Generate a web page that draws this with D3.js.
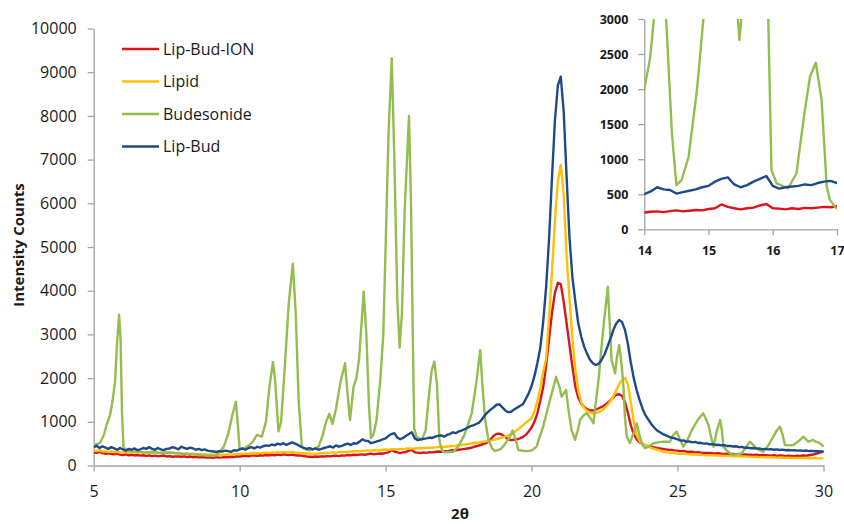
<!DOCTYPE html>
<html>
<head>
<meta charset="utf-8">
<script src="https://cdn.jsdelivr.net/npm/d3@7"></script>
<style>
  html, body { margin: 0; padding: 0; background: #fff; }
  svg { display: block; font-family: "Open Sans", "DejaVu Sans", sans-serif; }
</style>
</head>
<body>
<svg id="chart" width="844" height="524"></svg>
<script>
// Diffractometer scan: first angle and step (degrees 2θ) of the lipid-based samples
const scanStart = 5;
const scanStep = 0.1;

// Lip-Bud-ION intensity counts, 5°–30° every 0.1°
const lipBudIon = [
  300, 290, 310, 285, 270, 280, 265, 255, 270, 250,
  240, 255, 235, 245, 230, 240, 225, 235, 220, 230,
  215, 225, 210, 220, 230, 205, 215, 200, 210, 205,
  200, 210, 195, 205, 190, 200, 185, 195, 190, 180,
  185, 175, 190, 180, 185, 195, 190, 200, 195, 210,
  205, 215, 220, 210, 225, 230, 220, 235, 225, 240,
  230, 245, 235, 250, 240, 255, 245, 240, 250, 235,
  230, 225, 215, 205, 200, 195, 205, 200, 210, 205,
  215, 210, 220, 225, 215, 230, 225, 240, 235, 245,
  240, 250, 255, 245, 260, 270, 255, 265, 275, 270,
  290, 300, 355, 320, 300, 285, 300, 310, 340, 360,
  300, 295, 285, 300, 290, 305, 300, 310, 320, 315,
  330, 325, 340, 350, 345, 360, 370, 380, 390, 400,
  420, 440, 460, 480, 500, 540, 600, 680, 720, 730,
  700, 650, 600, 580, 590, 600, 620, 650, 700, 780,
  870, 1000, 1200, 1480, 1800, 2300, 2900, 3500, 3950, 4180,
  4150, 3750, 3250, 2750, 2250, 1800, 1550, 1420, 1340, 1290,
  1260, 1260, 1280, 1310, 1340, 1380, 1430, 1490, 1560, 1620,
  1630, 1590, 1450, 1200, 920, 720, 600, 530, 490, 460,
  440, 430, 415, 400, 390, 380, 370, 360, 355, 345,
  340, 330, 335, 320, 310, 315, 300, 305, 295, 290,
  285, 290, 280, 275, 280, 270, 265, 270, 260, 265,
  255, 260, 250, 255, 245, 250, 240, 245, 235, 240,
  235, 230, 225, 235, 220, 230, 225, 215, 225, 220,
  215, 225, 220, 230, 225, 235, 245, 260, 280, 300,
  320
];

// Lipid intensity counts, 5°–30° every 0.1°
const lipid = [
  340, 330, 345, 320, 330, 310, 320, 305, 315, 300,
  300, 310, 295, 305, 300, 290, 305, 295, 300, 290,
  295, 300, 285, 295, 290, 300, 285, 290, 280, 285,
  280, 270, 275, 265, 270, 260, 265, 255, 260, 250,
  255, 245, 250, 240, 250, 245, 255, 250, 260, 265,
  260, 270, 275, 270, 280, 285, 280, 290, 285, 295,
  290, 300, 295, 305, 300, 310, 305, 300, 310, 300,
  295, 285, 280, 275, 270, 265, 270, 275, 280, 285,
  290, 295, 300, 295, 305, 310, 305, 315, 320, 325,
  330, 325, 335, 340, 345, 340, 350, 355, 350, 360,
  365, 360, 370, 375, 370, 380, 375, 385, 390, 385,
  390, 395, 400, 395, 405, 410, 405, 415, 420, 425,
  430, 435, 440, 450, 455, 465, 470, 480, 490, 500,
  510, 520, 530, 540, 550, 560, 570, 585, 600, 620,
  640, 665, 690, 720, 760, 810, 860, 920, 980, 1030,
  1080, 1250, 1480, 1780, 2150, 2450, 3400, 4450, 5600, 6500,
  6880, 6200, 4800, 3800, 2900, 2200, 1700, 1450, 1320, 1250,
  1210, 1190, 1200, 1220, 1260, 1310, 1380, 1470, 1580, 1720,
  1860, 1960, 2000, 1850, 1450, 1000, 700, 560, 500, 460,
  430, 400, 380, 360, 340, 320, 305, 295, 290, 280,
  275, 270, 268, 260, 258, 250, 248, 245, 242, 238,
  235, 232, 232, 226, 225, 222, 220, 220, 214, 212,
  210, 210, 205, 204, 203, 198, 198, 196, 192, 192,
  190, 188, 186, 185, 180, 180, 178, 176, 176, 172,
  172, 170, 170, 168, 168, 166, 166, 165, 164, 163,
  162
];

// Lip-Bud intensity counts, 5°–30° every 0.1°
const lipBud = [
  420, 450, 400, 440, 410, 380, 420, 390, 360, 400,
  370, 340, 380, 360, 390, 350, 370, 400, 380, 420,
  380, 360, 400, 370, 350, 380, 390, 420, 400, 370,
  430, 400, 380, 410, 390, 360, 380, 350, 370, 340,
  330, 320, 310, 330, 320, 340, 330, 310, 350, 340,
  370, 390, 360, 400, 420, 390, 430, 410, 440, 460,
  450, 480, 460, 500, 480, 510, 470, 500, 530, 500,
  470, 430, 400, 380, 400, 370, 390, 360, 380, 400,
  420, 440, 410, 460, 430, 450, 480, 500, 470, 510,
  500, 540, 600, 570, 560, 510, 530, 550, 570, 600,
  620, 680, 720, 740, 640, 600, 630, 680, 720, 760,
  620, 580, 600, 610, 620, 640, 630, 660, 680, 690,
  660, 700, 720, 760, 740, 780, 800, 830, 860, 900,
  920, 950, 980, 1060, 1150, 1220, 1280, 1330, 1390, 1400,
  1330, 1260, 1220, 1230, 1280, 1320, 1360, 1400, 1520, 1650,
  1820, 2050, 2350, 2700, 3300, 4100, 5200, 6600, 7900, 8700,
  8900, 8100, 6600, 5200, 4300, 3750, 3250, 2950, 2720, 2560,
  2420, 2340, 2300, 2330, 2420, 2540, 2720, 2900, 3100, 3250,
  3330, 3280, 3100, 2780, 2350, 2000, 1720, 1500, 1300, 1150,
  1050, 950, 870, 800, 760, 720, 690, 660, 640, 620,
  600, 570, 575, 545, 550, 530, 540, 515, 520, 500,
  505, 485, 490, 470, 475, 460, 465, 445, 450, 435,
  440, 420, 425, 405, 410, 395, 400, 385, 390, 375,
  380, 370, 375, 360, 368, 355, 362, 350, 356, 345,
  350, 340, 346, 335, 342, 330, 336, 325, 330, 320,
  320
];

// Budesonide (crystalline drug): [2θ, intensity counts]
const budesonide = [
  [5.0, 460], [5.1, 490], [5.22, 520], [5.35, 700], [5.45, 950], [5.56, 1150],
  [5.65, 1500], [5.73, 1900], [5.8, 2800], [5.87, 3450], [5.92, 2900], [5.97, 1200],
  [6.02, 430], [6.1, 350], [6.3, 330], [6.5, 320], [6.7, 300], [7.0, 310],
  [7.3, 290], [7.6, 300], [8.0, 270], [8.3, 260], [8.6, 240], [8.9, 225],
  [9.2, 230], [9.45, 420], [9.6, 700], [9.75, 1150], [9.87, 1460], [9.93, 1000],
  [10.0, 380], [10.15, 390], [10.3, 450], [10.47, 560], [10.59, 700], [10.68, 680],
  [10.76, 660], [10.9, 1000], [11.02, 1800], [11.14, 2370], [11.22, 1900], [11.33, 780],
  [11.42, 1000], [11.55, 2300], [11.68, 3700], [11.82, 4620], [11.92, 3500], [12.02, 1500],
  [12.13, 430], [12.3, 360], [12.41, 350], [12.55, 380], [12.7, 430], [12.85, 700],
  [12.96, 1000], [13.07, 1180], [13.18, 950], [13.3, 1300], [13.45, 1900], [13.61, 2340],
  [13.7, 1600], [13.78, 1040], [13.9, 1800], [14.0, 2000], [14.09, 2440], [14.16, 3100],
  [14.25, 3980], [14.34, 3000], [14.43, 1370], [14.5, 630], [14.58, 700], [14.69, 1035],
  [14.82, 1990], [14.92, 3000], [15.0, 5000], [15.1, 7600], [15.21, 9320], [15.3, 7000],
  [15.4, 3800], [15.48, 2700], [15.56, 3500], [15.65, 5800], [15.8, 8000], [15.87, 6000],
  [15.93, 3000], [15.98, 845], [16.06, 655], [16.24, 585], [16.37, 800], [16.43, 1225],
  [16.5, 1700], [16.58, 2180], [16.67, 2376], [16.76, 1845], [16.84, 610], [16.89, 420],
  [16.99, 300], [17.15, 310], [17.32, 315], [17.5, 450], [17.7, 700], [17.95, 1195],
  [18.12, 1960], [18.24, 2640], [18.32, 1800], [18.41, 1040], [18.52, 600], [18.64, 400],
  [18.75, 330], [18.95, 380], [19.1, 500], [19.26, 660], [19.35, 800], [19.45, 600],
  [19.55, 355], [19.8, 330], [20.0, 340], [20.17, 430], [20.4, 900], [20.63, 1500],
  [20.75, 1800], [20.84, 2030], [20.95, 1800], [21.03, 1575], [21.18, 1730], [21.28, 1200],
  [21.37, 810], [21.49, 585], [21.58, 800], [21.66, 1040], [21.78, 1150], [21.89, 1195],
  [22.0, 1100], [22.12, 965], [22.17, 1270], [22.3, 2000], [22.45, 3100], [22.61, 4090],
  [22.68, 3200], [22.74, 2415], [22.86, 2110], [22.93, 2500], [23.0, 2760], [23.07, 2400],
  [23.14, 1880], [23.2, 1100], [23.26, 660], [23.37, 510], [23.5, 750], [23.6, 965],
  [23.71, 660], [23.8, 470], [23.89, 395], [24.0, 430], [24.17, 510], [24.35, 530],
  [24.51, 545], [24.74, 545], [24.85, 700], [24.97, 775], [25.08, 600], [25.2, 430],
  [25.35, 600], [25.49, 810], [25.7, 1050], [25.88, 1195], [25.95, 1100], [26.06, 925],
  [26.15, 650], [26.23, 430], [26.35, 800], [26.46, 1040], [26.52, 800], [26.57, 430],
  [26.75, 300], [26.91, 240], [27.05, 260], [27.2, 280], [27.35, 420], [27.48, 545],
  [27.65, 430], [27.8, 350], [27.94, 315], [28.1, 450], [28.28, 660], [28.4, 800],
  [28.51, 890], [28.6, 700], [28.68, 470], [28.8, 460], [28.97, 470], [29.15, 560],
  [29.31, 660], [29.4, 600], [29.48, 545], [29.65, 585], [29.75, 540], [29.88, 510],
  [30.0, 430]
];

// Axis ticks
const mainXTicks = [5, 10, 15, 20, 25, 30];
const mainYTicks = [0, 1000, 2000, 3000, 4000, 5000, 6000, 7000, 8000, 9000, 10000];
const insetXTicks = [14, 15, 16, 17];
const insetYTicks = [0, 500, 1000, 1500, 2000, 2500, 3000];

// Series names (legend order) and colours
const seriesNames = ["Lip-Bud-ION", "Lipid", "Budesonide", "Lip-Bud"];
const seriesColors = ["#d9141b", "#ffc000", "#93bd4f", "#1e4a8c"];

const scanPoints = vals => vals.map((v, i) => [+(scanStart + i * scanStep).toFixed(2), v]);
const series = [
  { name: seriesNames[0], color: seriesColors[0], pts: scanPoints(lipBudIon), inset: true },
  { name: seriesNames[1], color: seriesColors[1], pts: scanPoints(lipid), inset: false },
  { name: seriesNames[2], color: seriesColors[2], pts: budesonide, inset: true },
  { name: seriesNames[3], color: seriesColors[3], pts: scanPoints(lipBud), inset: true }
];

const svg = d3.select("#chart");
const axisColor = "#a3a3a3";
const textColor = "#1a1a1a";

function styleAxis(g, fontSize, weight) {
  g.select(".domain").attr("stroke", axisColor).attr("stroke-width", 1.3);
  g.selectAll(".tick line").attr("stroke", axisColor).attr("stroke-width", 1.3);
  g.selectAll(".tick text")
    .attr("fill", textColor)
    .style("font-family", '"Open Sans", sans-serif')
    .style("font-size", fontSize + "px")
    .style("font-weight", weight);
}

// ---------- main panel ----------
const x = d3.scaleLinear().domain([5, 30]).range([93.7, 823.5]);
const y = d3.scaleLinear().domain([0, 10000]).range([465.5, 28.5]);

svg.append("g")
  .attr("transform", `translate(0,${y(0)})`)
  .call(d3.axisBottom(x).tickValues(mainXTicks).tickSize(6).tickSizeOuter(0).tickPadding(14).tickFormat(d3.format("d")))
  .call(g => styleAxis(g, 16, 400));

svg.append("g")
  .attr("transform", `translate(${x(5)},0)`)
  .call(d3.axisLeft(y).tickValues(mainYTicks).tickSize(6).tickSizeOuter(0).tickPadding(11).tickFormat(d3.format("d")))
  .call(g => styleAxis(g, 16, 400));

svg.append("clipPath").attr("id", "mainClip")
  .append("rect").attr("x", x(5)).attr("y", y(10000) - 4)
  .attr("width", x(30) - x(5) + 4).attr("height", y(0) - y(10000) + 4);

const mainLine = d3.line().x(d => x(d[0])).y(d => y(d[1]));
const mainG = svg.append("g").attr("clip-path", "url(#mainClip)");
series.forEach(s => {
  mainG.append("path")
    .attr("d", mainLine(s.pts))
    .attr("fill", "none")
    .attr("stroke", s.color)
    .attr("stroke-width", 2.4)
    .attr("stroke-linejoin", "round");
});

// axis titles
svg.append("text")
  .attr("x", 460).attr("y", 519)
  .attr("text-anchor", "middle")
  .attr("fill", textColor)
  .style("font-size", "15px").style("font-weight", 700)
  .text("2θ");

svg.append("text")
  .attr("transform", "translate(24,245) rotate(-90)")
  .attr("text-anchor", "middle")
  .attr("fill", textColor)
  .style("font-size", "15px").style("font-weight", 700)
  .text("Intensity Counts");

// legend
const legend = svg.append("g").attr("transform", "translate(122,49)");
series.forEach((s, i) => {
  const row = legend.append("g").attr("transform", `translate(0,${i * 32.5})`);
  row.append("line").attr("x1", 0).attr("x2", 37).attr("y1", 0).attr("y2", 0)
    .attr("stroke", s.color).attr("stroke-width", 2.6);
  row.append("text").attr("x", 41).attr("y", 0).attr("dy", "0.35em")
    .attr("fill", textColor)
    .style("font-size", "16px")
    .text(s.name);
});

// ---------- inset: 14°–17° enlarged ----------
const xi = d3.scaleLinear().domain([14, 17]).range([644.3, 837]);
const yi = d3.scaleLinear().domain([0, 3000]).range([229.3, 19]);

svg.append("g")
  .attr("transform", `translate(0,${yi(0)})`)
  .call(d3.axisBottom(xi).tickValues(insetXTicks).tickSize(6).tickSizeOuter(0).tickPadding(11).tickFormat(d3.format("d")))
  .call(g => styleAxis(g, 12.5, 700));

svg.append("g")
  .attr("transform", `translate(${xi(14)},0)`)
  .call(d3.axisLeft(yi).tickValues(insetYTicks).tickSize(6).tickSizeOuter(0).tickPadding(10).tickFormat(d3.format("d")))
  .call(g => styleAxis(g, 12.5, 700));

svg.append("clipPath").attr("id", "insetClip")
  .append("rect").attr("x", xi(14)).attr("y", yi(3000))
  .attr("width", xi(17) - xi(14)).attr("height", yi(0) - yi(3000));

const insetLine = d3.line().x(d => xi(d[0])).y(d => yi(d[1]));
const insetG = svg.append("g").attr("clip-path", "url(#insetClip)");
series.filter(s => s.inset).forEach(s => {
  const pts = s.pts.filter(d => d[0] >= 13.8 && d[0] <= 17.2);
  insetG.append("path")
    .attr("d", insetLine(pts))
    .attr("fill", "none")
    .attr("stroke", s.color)
    .attr("stroke-width", 2.4)
    .attr("stroke-linejoin", "round");
});
</script>
</body>
</html>
